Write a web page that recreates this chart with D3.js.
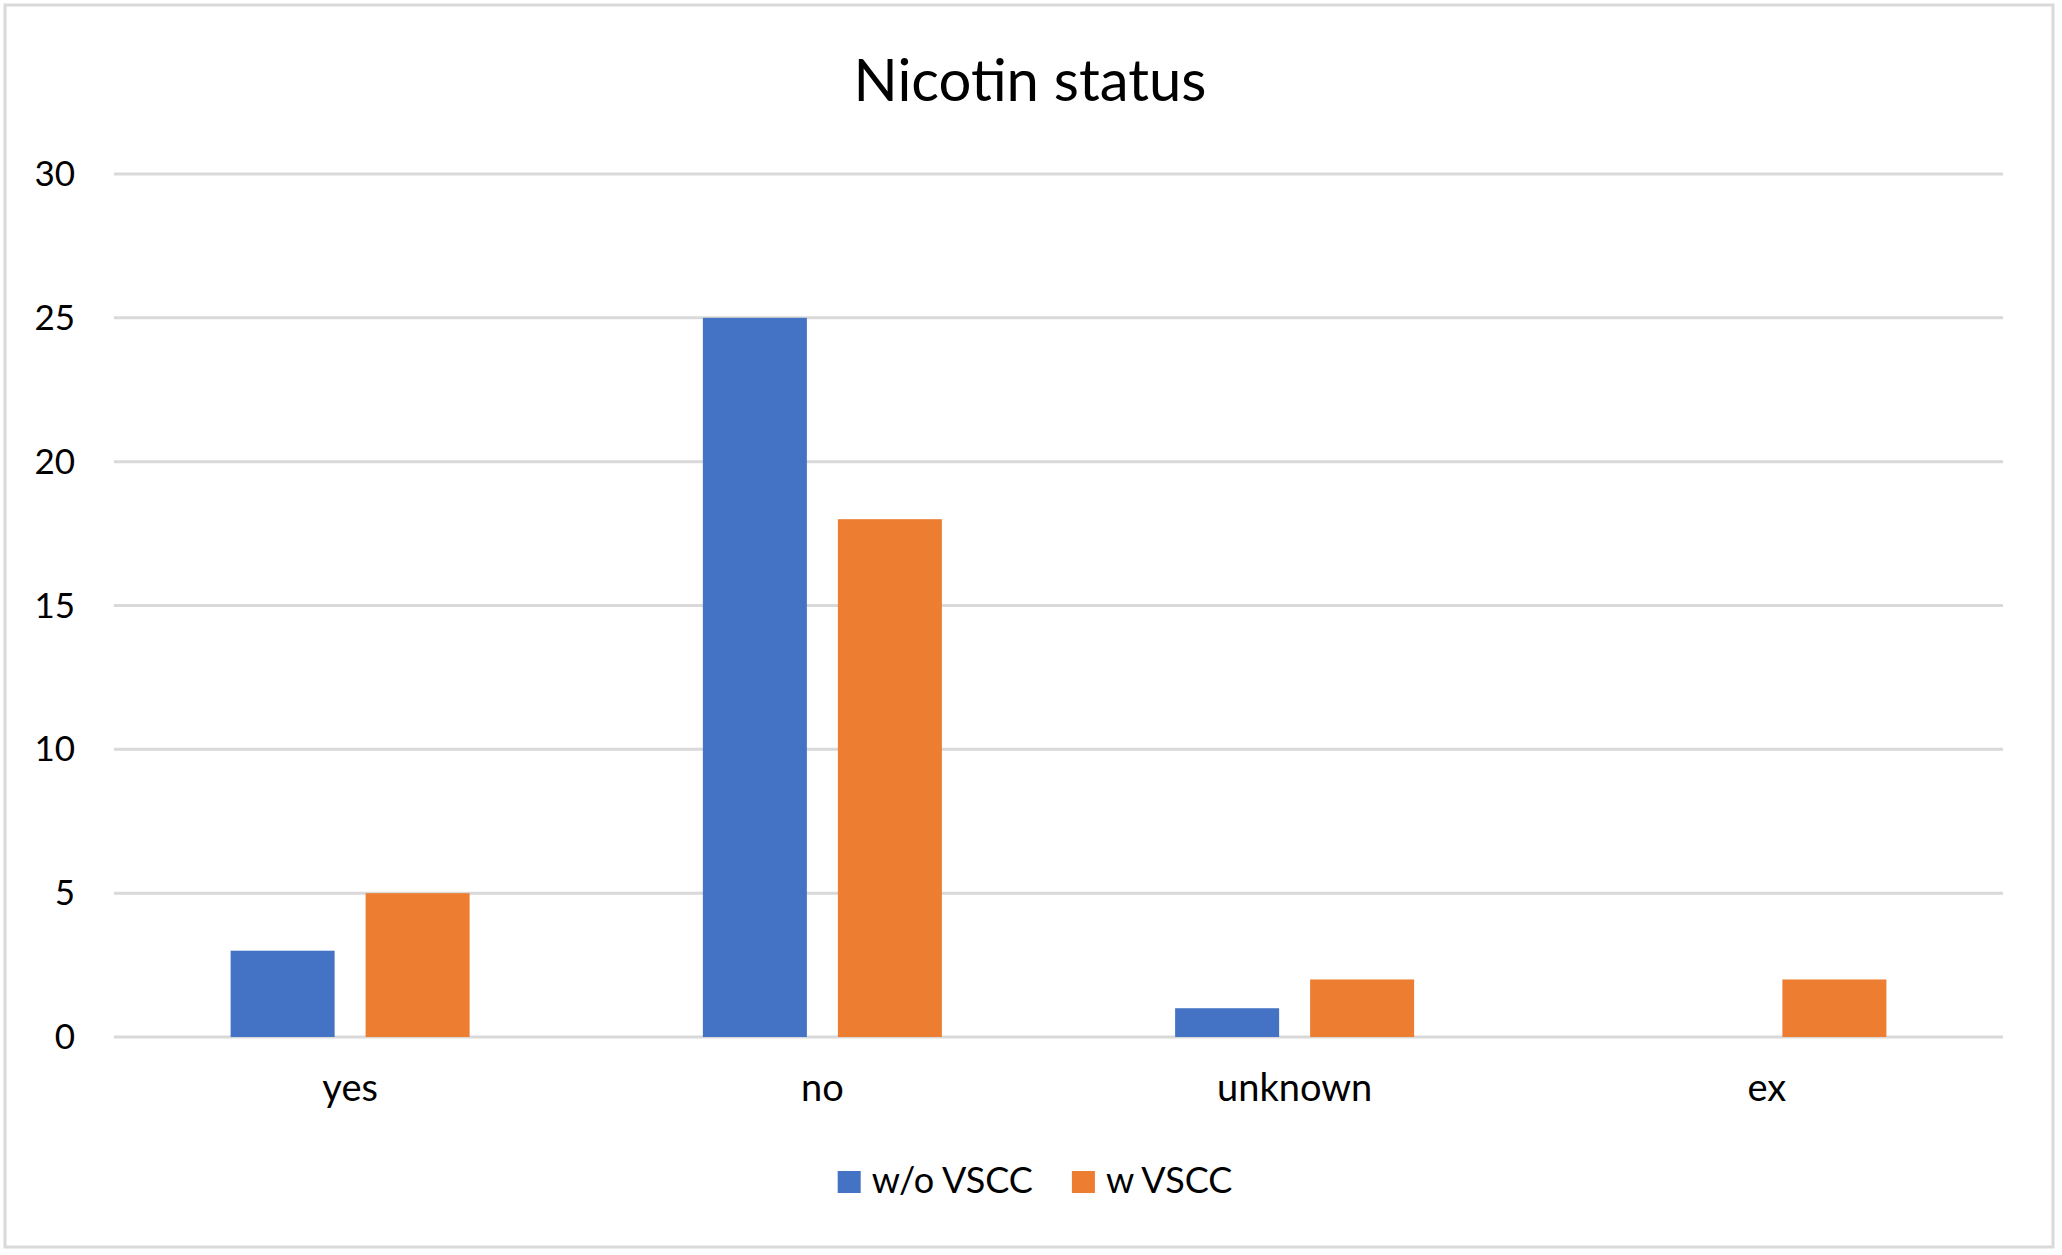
<!DOCTYPE html>
<html>
<head>
<meta charset="utf-8">
<script src="https://cdn.jsdelivr.net/npm/d3@7"></script>
<style>
  body { margin: 0; background: #fff; }
  text { font-family: Lato, "Open Sans", sans-serif; fill: #000; }
</style>
</head>
<body>
<div class="canvas"></div>
<script>
// data
const categories = ["yes", "no", "unknown", "ex"];
const seriesNames = ["w/o VSCC", "w VSCC"];
const withoutVSCC = [3, 25, 1, 0];
const withVSCC = [5, 18, 2, 2];
const yTicks = [0, 5, 10, 15, 20, 25, 30];
const colors = ["#4472C4", "#ED7D31"];

const width = 2062;
const height = 1255;

const svg = d3
  .select(".canvas")
  .append("svg")
  .attr("width", width)
  .attr("height", height);

// outer frame
svg
  .append("rect")
  .attr("x", 5)
  .attr("y", 5)
  .attr("width", 2048)
  .attr("height", 1242)
  .attr("fill", "#fff")
  .attr("stroke", "#d9d9d9")
  .attr("stroke-width", 3);

const plotLeft = 114;
const plotRight = 2003;
const plotTop = 174;
const plotBottom = 1037;

const xScale = d3
  .scaleBand()
  .domain(categories)
  .range([plotLeft, plotRight])
  .paddingInner(0)
  .paddingOuter(0);

const yScale = d3.scaleLinear().domain([0, 30]).range([plotBottom, plotTop]);

// title
svg
  .append("text")
  .attr("x", 1030)
  .attr("y", 101)
  .attr("text-anchor", "middle")
  .attr("font-size", 58)
  .text("Nicotin status");

// grid lines
svg
  .append("g")
  .selectAll("line")
  .data(yTicks)
  .enter()
  .append("line")
  .attr("x1", plotLeft)
  .attr("x2", plotRight)
  .attr("y1", (d) => yScale(d))
  .attr("y2", (d) => yScale(d))
  .attr("stroke", "#d9d9d9")
  .attr("stroke-width", 3);

// y axis labels
const yAxis = d3.axisLeft(yScale).tickValues(yTicks).tickSize(0).tickPadding(0);
const yAxisG = svg
  .append("g")
  .attr("transform", `translate(75,0)`)
  .call(yAxis);
yAxisG.select(".domain").remove();
yAxisG
  .selectAll("text")
  .attr("font-size", 35)
  .attr("font-family", "Lato, sans-serif")
  .attr("fill", "#000")
  .attr("dy", "0.33em");

// x axis labels
const xAxis = d3.axisBottom(xScale).tickSize(0).tickPadding(0);
const xAxisG = svg
  .append("g")
  .attr("transform", `translate(0,${plotBottom})`)
  .call(xAxis);
xAxisG.select(".domain").remove();
xAxisG
  .selectAll("text")
  .attr("font-size", 38)
  .attr("font-family", "Lato, sans-serif")
  .attr("fill", "#000")
  .attr("dy", 0)
  .attr("y", 64);

// bars
const barWidth = 104;
const barGap = 31;
const series = [withoutVSCC, withVSCC];

series.forEach((values, s) => {
  svg
    .append("g")
    .selectAll("rect")
    .data(values)
    .enter()
    .append("rect")
    .attr("x", (d, i) => {
      const center = xScale(categories[i]) + xScale.bandwidth() / 2;
      return s === 0 ? center - barGap / 2 - barWidth : center + barGap / 2;
    })
    .attr("y", (d) => yScale(d))
    .attr("width", barWidth)
    .attr("height", (d) => plotBottom - yScale(d))
    .attr("fill", colors[s]);
});

// legend
const legend = svg.append("g");
let lx = 0;
seriesNames.forEach((name, s) => {
  const item = legend.append("g").attr("transform", `translate(${lx},0)`);
  item
    .append("rect")
    .attr("x", 0)
    .attr("y", 1171)
    .attr("width", 23)
    .attr("height", 22)
    .attr("fill", colors[s]);
  const t = item
    .append("text")
    .attr("x", 34)
    .attr("y", 1193)
    .attr("font-size", 36)
    .text(name);
  lx += 34 + t.node().getComputedTextLength() + 39;
});
const legendWidth = lx - 39;
legend.attr("transform", `translate(${1035 - legendWidth / 2},0)`);
</script>
</body>
</html>
